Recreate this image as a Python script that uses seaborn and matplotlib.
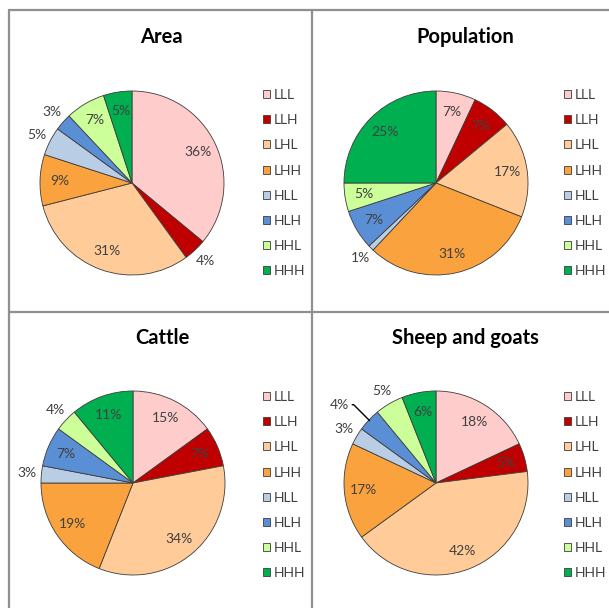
import numpy as np
import matplotlib
matplotlib.use("Agg")
import matplotlib.pyplot as plt
from matplotlib.lines import Line2D
import seaborn as sns

# --- data ---
categories = ["LLL", "LLH", "LHL", "LHH", "HLL", "HLH", "HHL", "HHH"]
area = [36, 4, 31, 9, 5, 3, 7, 5]
population = [7, 7, 17, 31, 1, 7, 5, 25]
cattle = [15, 7, 34, 19, 3, 7, 4, 11]
sheep_goats = [18, 5, 42, 17, 3, 4, 5, 6]
titles = ["Area", "Population", "Cattle", "Sheep and goats"]

colors = ["#FFCCCC", "#C00000", "#FFCC99", "#F9A23E",
          "#B9CDE5", "#5B8FD5", "#CCFF99", "#00B050"]

# labels that sit outside the pie (index of slice), and those with a leader line
outside = {"Area": [1, 4, 5], "Population": [4], "Cattle": [4, 6],
           "Sheep and goats": [4, 6]}
leader = {"Sheep and goats": [5]}

W, H = 609, 608
TXT = "#404040"


def fx(px):
    return px / W


def fy(py):
    return 1 - py / H


def draw_panel(fig, name, values, cx, cy, ty, legx, legy):
    R = 92  # pie radius in px
    half = R * 1.25
    ax = fig.add_axes([fx(cx - half), fy(cy + half), 2 * half / W, 2 * half / H])
    wedges, _ = ax.pie(values, colors=colors, startangle=90, counterclock=False,
                       wedgeprops=dict(edgecolor="#3c3c3c", linewidth=0.6))
    ax.set_xlim(-1.25, 1.25)
    ax.set_ylim(-1.25, 1.25)
    ax.set_aspect("equal")
    ax.axis("off")

    for i, (w, v) in enumerate(zip(wedges, values)):
        ang = np.deg2rad((w.theta1 + w.theta2) / 2)
        c, s = np.cos(ang), np.sin(ang)
        if i in leader.get(name, []):
            ax.annotate(f"{v}%", xy=(0.99 * c, 0.99 * s),
                        xytext=(1.36 * c - 0.06, 1.36 * s - 0.08),
                        ha="center", va="center", fontsize=10, color=TXT,
                        arrowprops=dict(arrowstyle="-", color="black", lw=1.0,
                                        connectionstyle="angle,angleA=0,angleB=135,rad=0",
                                        shrinkA=0, shrinkB=0))
        elif i in outside.get(name, []):
            ax.text(1.16 * c, 1.16 * s, f"{v}%", ha="center", va="center",
                    fontsize=10, color=TXT)
        else:
            ax.text(0.79 * c, 0.79 * s, f"{v}%", ha="center", va="center",
                    fontsize=10, color=TXT)

    fig.text(fx(cx + 29), fy(ty), name, ha="center", va="center",
             fontsize=14.5, fontweight="bold", color="black")

    fig.legend(wedges, categories, loc="upper left",
               bbox_to_anchor=(fx(legx), fy(legy)), bbox_transform=fig.transFigure,
               frameon=False, fontsize=10, labelcolor=TXT, borderpad=0,
               handlelength=0.5, handleheight=0.5, handletextpad=0.25,
               labelspacing=0.95)


def main():
    sns.set_theme(style="white")
    plt.rcParams["font.family"] = ["Lato", "DejaVu Sans"]

    fig = plt.figure(figsize=(W / 100, H / 100), dpi=100)
    fig.patch.set_facecolor("white")

    draw_panel(fig, "Area", area, 132, 183, 37, 256, 82)
    draw_panel(fig, "Population", population, 436, 183, 37, 557, 82)
    draw_panel(fig, "Cattle", cattle, 133, 483, 338, 256, 384)
    draw_panel(fig, "Sheep and goats", sheep_goats, 436, 483, 338, 557, 384)

    # panel borders
    kw = dict(color="#8f8f8f", lw=1.6, transform=fig.transFigure)
    fig.add_artist(Line2D([fx(9), fx(W)], [fy(10), fy(10)], **kw))
    fig.add_artist(Line2D([fx(9), fx(W)], [fy(312), fy(312)], **kw))
    fig.add_artist(Line2D([fx(9), fx(9)], [fy(10), fy(H)], **kw))
    fig.add_artist(Line2D([fx(312), fx(312)], [fy(10), fy(H)], **kw))

    fig.savefig("out.png", dpi=100)
    plt.close(fig)


if __name__ == "__main__":
    main()
